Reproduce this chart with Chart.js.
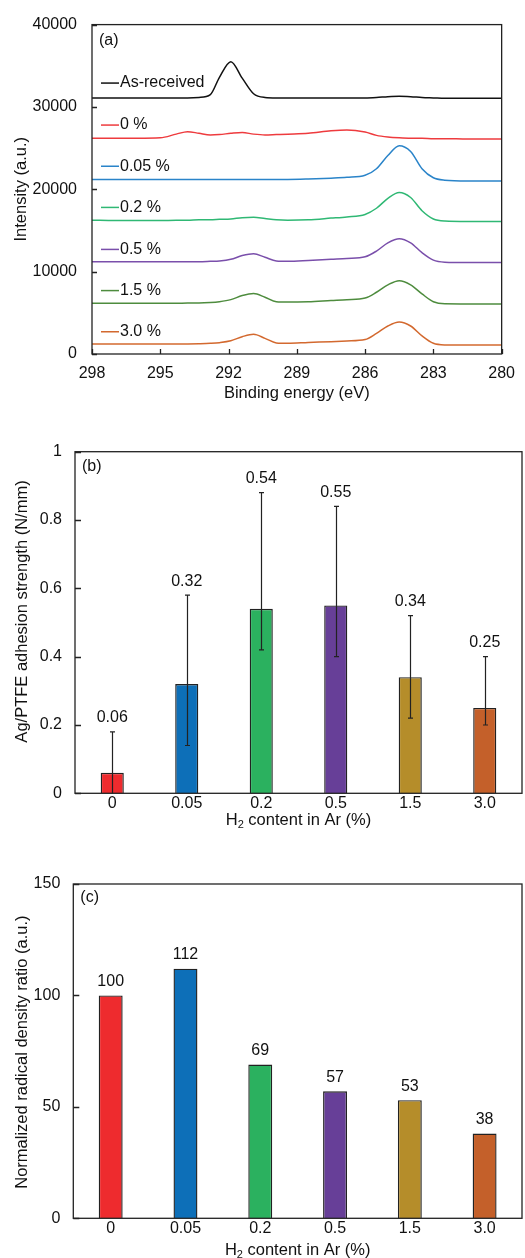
<!DOCTYPE html>
<html lang="en">
<head>
<meta charset="UTF-8">
<title>C1s spectra, Ag/PTFE adhesion and radical density vs H2 content</title>
<script src="https://cdn.jsdelivr.net/npm/chart.js"></script>
<style>
  body { margin: 0; background: #fff; }
  .panel { position: absolute; left: 0; width: 525px; }
</style>
</head>
<body>
<div class="panel" style="top:0;height:410px"><canvas id="xpsChart"></canvas></div>
<div class="panel" style="top:420px;height:420px"><canvas id="adhesionChart"></canvas></div>
<div class="panel" style="top:860px;height:398px"><canvas id="radicalChart"></canvas></div>

<script>
// (a) XPS C1s spectra (offset stacked)
const energy     = [298, 297, 296, 295, 294.3, 293.8, 293.3, 292.8, 292.4, 291.9, 291.4, 290.9, 290.4, 289.9, 289.4, 288.5, 287.5, 286.8, 286, 285.5, 285, 284.5, 284, 283.5, 283, 282.5, 281.5, 280];
const asReceived = [31100, 31100, 31100, 31100, 31100, 31100, 31150, 31500, 33600, 35500, 33500, 31600, 31150, 31100, 31100, 31100, 31100, 31100, 31100, 31150, 31250, 31300, 31250, 31150, 31100, 31050, 31050, 31050];
const h2_0       = [26200, 26200, 26200, 26250, 26700, 27000, 26800, 26600, 26650, 26800, 26900, 26700, 26600, 26650, 26700, 26800, 27100, 27200, 26950, 26550, 26350, 26250, 26200, 26200, 26150, 26150, 26100, 26100];
const h2_005     = [21200, 21200, 21200, 21200, 21200, 21200, 21200, 21200, 21200, 21200, 21200, 21200, 21200, 21200, 21200, 21250, 21350, 21450, 21700, 22500, 24100, 25300, 24600, 22500, 21400, 21100, 21000, 21000];
const h2_02      = [16250, 16200, 16200, 16200, 16250, 16250, 16300, 16300, 16350, 16400, 16550, 16600, 16450, 16300, 16250, 16300, 16500, 16650, 16950, 17700, 18900, 19600, 19000, 17400, 16400, 16150, 16100, 16100];
const h2_05      = [11200, 11200, 11200, 11200, 11200, 11200, 11200, 11250, 11300, 11500, 11950, 12170, 11750, 11300, 11250, 11350, 11500, 11600, 11800, 12500, 13500, 14000, 13500, 12300, 11400, 11150, 11100, 11100];
const h2_15      = [6150, 6150, 6150, 6150, 6150, 6200, 6200, 6250, 6350, 6600, 7100, 7350, 6900, 6350, 6300, 6350, 6500, 6600, 6800, 7500, 8400, 8900, 8400, 7300, 6350, 6100, 6080, 6080];
const h2_30      = [1200, 1200, 1200, 1200, 1200, 1220, 1250, 1300, 1380, 1600, 2100, 2400, 1900, 1350, 1300, 1400, 1500, 1580, 1750, 2500, 3400, 3880, 3400, 2200, 1300, 1100, 1080, 1080];
const spectraNames = ['As-received', '0 %', '0.05 %', '0.2 %', '0.5 %', '1.5 %', '3.0 %'];
const spectraLabelLevel = [32900, 27800, 22800, 17800, 12700, 7700, 2700];
const energyTicks = [280, 298, 3];     // min, max, step
const intensityTicks = [0, 40000, 10000];

// (b) and (c)
const h2Content    = ['0', '0.05', '0.2', '0.5', '1.5', '3.0'];
const adhesion     = [0.06, 0.32, 0.54, 0.55, 0.34, 0.25];
const adhesionHigh = [0.18, 0.58, 0.88, 0.84, 0.52, 0.40];
const adhesionLow  = [0, 0.14, 0.42, 0.40, 0.22, 0.20];
const radical      = [100, 112, 69, 57, 53, 38];

const FONT = "'Liberation Sans', Arial, sans-serif";
Chart.defaults.font.family = FONT;
Chart.defaults.font.size = 16;
Chart.defaults.color = '#111';

const lineColors = ['#111111', '#ee3b3e', '#2a84c9', '#2fb874', '#7a4fab', '#4e8c3e', '#d3692f'];
const barColors  = ['#ee2b2e', '#0d6fb8', '#2bb15f', '#673f98', '#b58d2a', '#c4602a'];

// box around plot area, inward ticks and the panel tag
const framePlugin = {
  id: 'frame',
  afterDraw(chart, args, o) {
    const { ctx, chartArea: a, scales } = chart;
    ctx.save();
    ctx.strokeStyle = '#222';
    ctx.lineWidth = 1.3;
    ctx.strokeRect(a.left, a.top, a.right - a.left, a.bottom - a.top);
    ctx.beginPath();
    scales.y.ticks.forEach(t => {
      const p = Math.round(scales.y.getPixelForValue(t.value)) + 0.5;
      ctx.moveTo(a.left, p); ctx.lineTo(a.left + o.tickLen, p);
    });
    if (o.xTicks) {
      scales.x.ticks.forEach(t => {
        const p = Math.round(scales.x.getPixelForValue(t.value)) + 0.5;
        ctx.moveTo(p, a.bottom); ctx.lineTo(p, a.bottom - o.tickLen);
      });
    }
    ctx.stroke();
    ctx.font = '16px ' + FONT;
    ctx.fillStyle = '#111';
    ctx.textBaseline = 'middle';
    ctx.fillText(o.tag, a.left + o.tagDx, a.top + o.tagDy);
    if (o.yTitle) {
      // rotated y title, slightly off-centre as in the figure
      ctx.translate(o.yTitleX, (a.top + a.bottom) / 2 + o.yTitleShift);
      ctx.rotate(-Math.PI / 2);
      ctx.font = '16.5px ' + FONT;
      ctx.textAlign = 'center';
      ctx.fillText(o.yTitle, 0, 0);
    }
    ctx.restore();
  }
};

// inline series names with a short line in front, panel (a)
const spectraLabels = {
  id: 'spectraLabels',
  afterDatasetsDraw(chart) {
    const { ctx, chartArea: a, scales: { y } } = chart;
    ctx.save();
    ctx.font = '16px ' + FONT;
    ctx.textBaseline = 'middle';
    spectraNames.forEach((name, i) => {
      const py = y.getPixelForValue(spectraLabelLevel[i]);
      ctx.strokeStyle = lineColors[i];
      ctx.lineWidth = 1.5;
      ctx.beginPath();
      ctx.moveTo(a.left + 9, py); ctx.lineTo(a.left + 27, py);
      ctx.stroke();
      ctx.fillStyle = '#111';
      ctx.fillText(name, a.left + 28, py);
    });
    ctx.restore();
  }
};

// x title with subscript 2
function h2Title(offset) {
  return {
    id: 'h2Title',
    afterDraw(chart) {
      const { ctx, chartArea: a } = chart;
      const big = '16.5px ' + FONT, small = '11px ' + FONT;
      const rest = ' content in Ar (%)';
      ctx.save();
      ctx.fillStyle = '#111';
      ctx.textBaseline = 'middle';
      ctx.font = big;
      const wH = ctx.measureText('H').width, wRest = ctx.measureText(rest).width;
      ctx.font = small;
      const w2 = ctx.measureText('2').width;
      let x = (a.left + a.right) / 2 - (wH + w2 + wRest) / 2;
      const y = a.bottom + offset;
      ctx.font = big; ctx.fillText('H', x, y); x += wH;
      ctx.font = small; ctx.fillText('2', x, y + 5); x += w2;
      ctx.font = big; ctx.fillText(rest, x, y);
      ctx.restore();
    }
  };
}

// error bars and value labels for bar panels
function barExtras(high, low, labelOf) {
  return {
    id: 'barExtras',
    afterDatasetsDraw(chart) {
      const { ctx, scales: { y } } = chart;
      const bars = chart.getDatasetMeta(0).data;
      const values = chart.data.datasets[0].data;
      ctx.save();
      ctx.strokeStyle = '#222';
      ctx.lineWidth = 1.2;
      ctx.font = '16px ' + FONT;
      ctx.fillStyle = '#111';
      ctx.textAlign = 'center';
      ctx.textBaseline = 'middle';
      bars.forEach((bar, i) => {
        const x = Math.round(bar.x) + 0.5;
        let topPx = y.getPixelForValue(values[i]);
        if (high) {
          topPx = y.getPixelForValue(high[i]);
          const lowPx = y.getPixelForValue(low[i]);
          ctx.beginPath();
          ctx.moveTo(x, topPx); ctx.lineTo(x, lowPx);
          ctx.moveTo(x - 2.5, topPx); ctx.lineTo(x + 2.5, topPx);
          if (low[i] > 0) { ctx.moveTo(x - 2.5, lowPx); ctx.lineTo(x + 2.5, lowPx); }
          ctx.stroke();
        }
        ctx.fillText(labelOf(values[i]), bar.x, topPx - 14);
      });
      ctx.restore();
    }
  };
}

// (a) spectra
new Chart(document.getElementById('xpsChart'), {
  type: 'line',
  data: {
    datasets: [asReceived, h2_0, h2_005, h2_02, h2_05, h2_15, h2_30].map((s, i) => ({
      label: spectraNames[i],
      data: energy.map((e, k) => ({ x: e, y: s[k] })),
      borderColor: lineColors[i],
      borderWidth: 1.5,
      pointRadius: 0,
      cubicInterpolationMode: 'monotone'
    }))
  },
  options: {
    responsive: true,
    maintainAspectRatio: false,
    animation: false,
    layout: { padding: { top: 21, right: 17, left: 0, bottom: 0 } },
    plugins: {
      legend: { display: false },
      tooltip: { enabled: false },
      frame: { tickLen: 5, xTicks: true, tag: '(a)', tagDx: 7, tagDy: 16 }
    },
    scales: {
      x: {
        type: 'linear',
        reverse: true,
        min: energyTicks[0], max: energyTicks[1],
        ticks: { stepSize: energyTicks[2], padding: 10, maxRotation: 0 },
        grid: { display: false, drawTicks: false },
        border: { display: false },
        title: { display: true, text: 'Binding energy (eV)', font: { size: 16.5 }, padding: { top: 0, bottom: 7 } },
        afterFit: s => { s.height = 56; }
      },
      y: {
        min: intensityTicks[0], max: intensityTicks[1],
        ticks: { stepSize: intensityTicks[2], padding: 15, callback: v => String(v) },
        grid: { display: false, drawTicks: false },
        border: { display: false },
        title: { display: true, text: 'Intensity (a.u.)', font: { size: 16.5 }, padding: { top: 12, bottom: 0 } },
        afterFit: s => { s.width = 92; }
      }
    }
  },
  plugins: [framePlugin, spectraLabels]
});

function barOptions(yMax, yStep, yTitle, titleShift, padTop, yWidth, xHeight, tag, tagDy) {
  return {
    responsive: true,
    maintainAspectRatio: false,
    animation: false,
    layout: { padding: { top: padTop, right: 3, left: 0, bottom: 0 } },
    plugins: {
      legend: { display: false },
      tooltip: { enabled: false },
      frame: { tickLen: 6, xTicks: false, tag: tag, tagDx: 7, tagDy: tagDy,
               yTitle: yTitle, yTitleX: 22, yTitleShift: titleShift }
    },
    scales: {
      x: {
        ticks: { padding: 1, maxRotation: 0, autoSkip: false },
        grid: { display: false, drawTicks: false },
        border: { display: false },
        afterFit: s => { s.height = xHeight; }
      },
      y: {
        min: 0, max: yMax,
        ticks: { stepSize: yStep, padding: 13, callback: v => String(Math.round(v * 10) / 10) },
        grid: { display: false, drawTicks: false },
        border: { display: false },
        afterFit: s => { s.width = yWidth; }
      }
    }
  };
}

// (b) adhesion strength
new Chart(document.getElementById('adhesionChart'), {
  type: 'bar',
  data: {
    labels: h2Content,
    datasets: [{
      data: adhesion,
      backgroundColor: barColors,
      borderColor: '#222',
      borderWidth: 1.4,
      categoryPercentage: 1,
      barPercentage: 0.31
    }]
  },
  options: barOptions(1, 0.2, 'Ag/PTFE adhesion strength (N/mm)', -11, 31.7, 75, 46.7, '(b)', 15),
  plugins: [framePlugin, barExtras(adhesionHigh, adhesionLow, v => v.toFixed(2)), h2Title(27)]
});

// (c) radical density
new Chart(document.getElementById('radicalChart'), {
  type: 'bar',
  data: {
    labels: h2Content,
    datasets: [{
      data: radical,
      backgroundColor: barColors,
      borderColor: '#222',
      borderWidth: 1.4,
      categoryPercentage: 1,
      barPercentage: 0.32
    }]
  },
  options: barOptions(150, 50, 'Normalized radical density ratio (a.u.)', 1, 24, 73.3, 39.7, '(c)', 14),
  plugins: [framePlugin, barExtras(null, null, v => String(v)), h2Title(32)]
});
</script>
</body>
</html>
